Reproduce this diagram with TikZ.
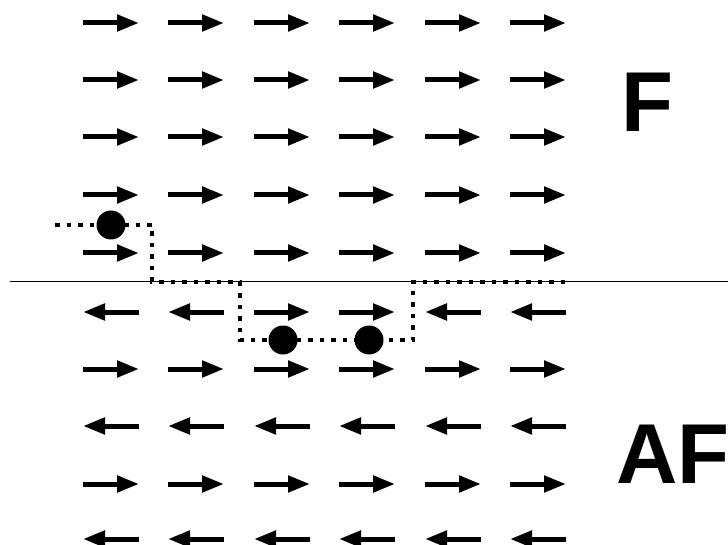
\documentclass[tikz,border=0pt]{standalone}
\usepackage{fontspec}
\setmainfont{Liberation Sans}
\usetikzlibrary{arrows.meta}
\begin{document}
\begin{tikzpicture}[x=1pt,y=-1pt,
  spin/.style={line width=5pt,-{Triangle[length=22pt,width=16pt]}},
  walk/.style={line width=4.5pt,dash pattern=on 4.5pt off 7pt},
  particle/.style={circle,fill=black,minimum size=29pt,inner sep=0pt},
  phase/.style={font=\fontsize{85}{85}\selectfont\bfseries,anchor=base west,inner sep=0pt}]
\useasboundingbox (0,0) rectangle (728,545);
% arrows: rows above the line (all right)
\foreach \y in {23,80,137,195,253}{
  \foreach \x in {83,168,254,339,425,510}{
    \draw[spin] (\x,\y) -- ++(56,0);
  }
}
% row 6: L L R R L L
\foreach \x/\d in {83/0,168/0,254/1,339/1,425/0,510/0}{
  \ifnum\d=1 \draw[spin] (\x,312) -- ++(56,0); \else \draw[spin] (\x+56,312) -- ++(-56,0); \fi
}
\foreach \y in {369,484}{
  \foreach \x in {83,168,254,339,425,510}{
    \draw[spin] (\x,\y) -- ++(56,0);
  }
}
\foreach \y in {426,539}{
  \foreach \x in {83,168,254,339,425,510}{
    \draw[spin] (\x+56,\y) -- ++(-56,0);
  }
}
% interface line
\coordinate (la) at (10,282);
\coordinate (lb) at (728,282);
\draw[line width=1pt] (la) -- (lb);
% walk path
\coordinate (w0) at (55,225);
\coordinate (w1) at (152,225);
\coordinate (w2) at (152,282);
\coordinate (w3) at (240,282);
\coordinate (w4) at (240,340);
\coordinate (w5) at (413,340);
\coordinate (w6) at (413,282);
\coordinate (w7) at (566,282);
\draw[walk] (w0) -- (w1) -- (w2) -- (w3) -- (w4) -- (w5) -- (w6) -- (w7);
% particles
\node[particle] (p1) at (111,225) {};
\node[particle] (p2) at (283,340) {};
\node[particle] (p3) at (369,340) {};
% labels
\node[phase] (F) at (621,132) {F};
\node[phase] (AF) at (616,483) {AF};
\end{tikzpicture}
\end{document}
